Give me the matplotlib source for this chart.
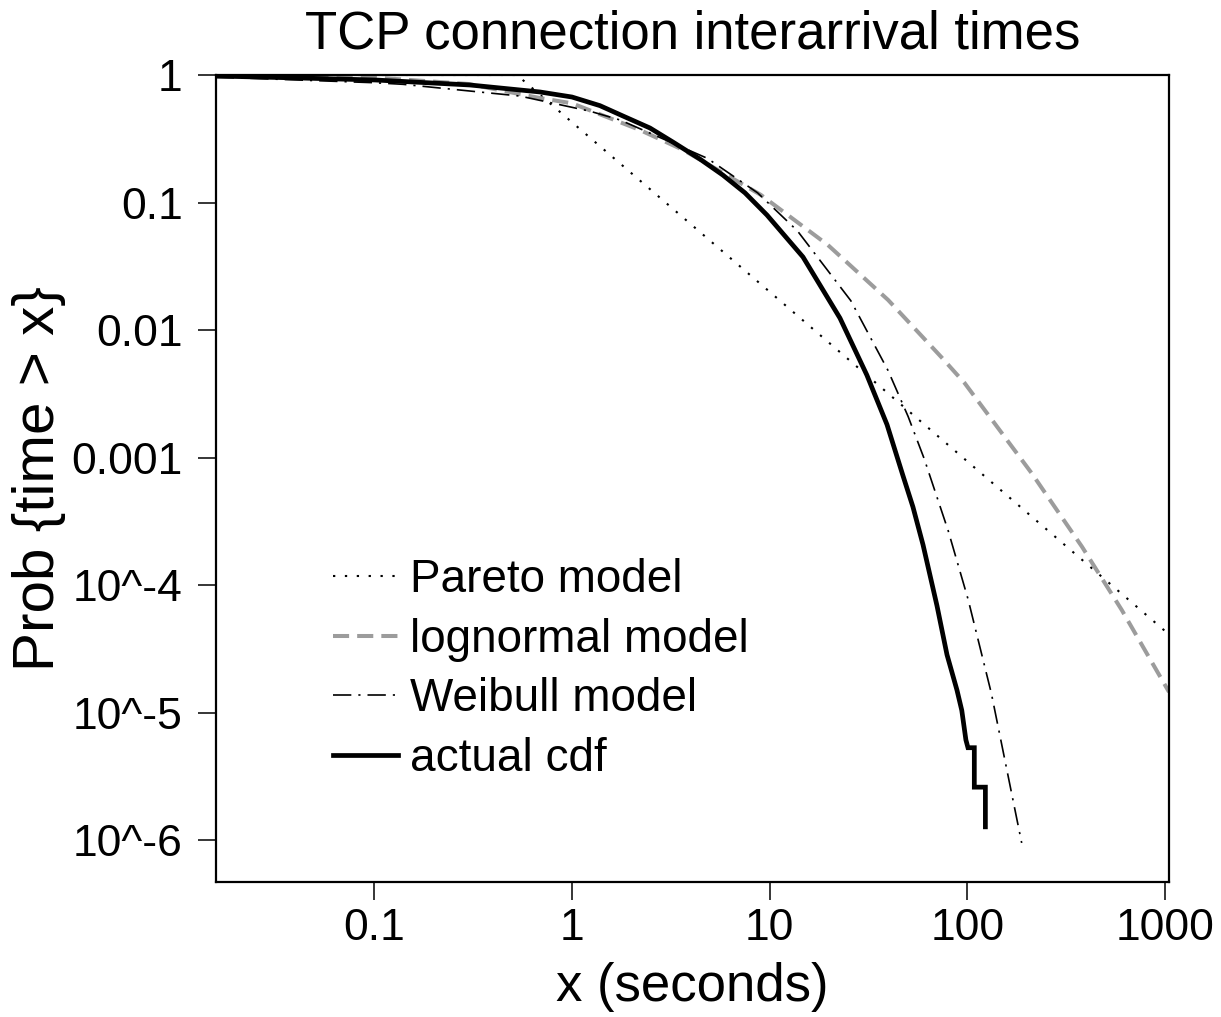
import matplotlib
matplotlib.use("Agg")
import matplotlib.pyplot as plt

# ---------------- data ----------------
title = "TCP connection interarrival times"
xlabel = "x (seconds)"
ylabel = "Prob {time > x}"
x_ticks = [0.1, 1, 10, 100, 1000]
x_ticklabels = ["0.1", "1", "10", "100", "1000"]
y_ticks = [1, 0.1, 0.01, 0.001, 1e-4, 1e-5, 1e-6]
y_ticklabels = ["1", "0.1", "0.01", "0.001", "10^-4", "10^-5", "10^-6"]

legend_labels = ["Pareto model", "lognormal model", "Weibull model", "actual cdf"]

pareto_x = [0.0158, 0.527, 1045]
pareto_p = [1.0, 1.0, 4.1e-5]

lognormal_x = [0.0158, 0.05, 0.1, 0.3, 0.688, 1.0, 2.21, 3.66, 9.0, 19.7,
               39.7, 73.7, 96.7, 211, 380, 603, 1045]
lognormal_p = [0.998, 0.985, 0.955, 0.85, 0.66, 0.60, 0.37, 0.258, 0.115, 0.0464,
               0.0172, 0.00614, 0.00384, 7.55e-4, 1.99e-4, 6.37e-5, 1.45e-5]

weibull_x = [0.0158, 0.0216, 0.1, 0.14, 0.545, 1.234, 1.75, 4.84, 8.69, 13.8,
             25.7, 39.7, 50.1, 60.4, 80.0, 100.8, 132, 188]
weibull_p = [0.957, 0.947, 0.87, 0.845, 0.684, 0.52, 0.444, 0.222, 0.119, 0.060,
             0.017, 0.0048, 0.0021, 9.8e-4, 2.65e-4, 7.7e-5, 1.42e-5, 9.5e-7]

actual_x = [0.0158, 0.0421, 0.101, 0.305, 0.689, 1.0, 1.385, 1.811, 2.48, 3.24,
            4.44, 5.80, 7.50, 9.69, 14.73, 22.66, 31.0, 39.2, 47.2, 53.0,
            59.6, 70.1, 78.8, 88.5, 93.6, 98.2, 100.6, 108.3, 108.3, 123.2, 123.2]
actual_p = [0.982, 0.947, 0.914, 0.835, 0.736, 0.672, 0.575, 0.477, 0.384, 0.298,
            0.219, 0.164, 0.119, 0.0797, 0.0374, 0.0124, 0.00443, 0.00181, 7.2e-4, 4.1e-4,
            2.07e-4, 6.9e-5, 2.84e-5, 1.5e-5, 1.04e-5, 6.1e-6, 5.3e-6, 5.3e-6, 2.6e-6, 2.6e-6,
            1.27e-6]

# ---------------- figure ----------------
FONT = ["Liberation Sans", "DejaVu Sans"]
plt.rcParams["font.family"] = FONT

W, H = 1221, 1017
fig = plt.figure(figsize=(W / 100, H / 100), dpi=100)
ax = fig.add_axes([216 / W, 1 - 882 / H, (1169 - 216) / W, (882 - 75) / H])

ax.plot(pareto_x, pareto_p, color="black", lw=1.5, linestyle=(0, (1.1, 4.6)),
        label=legend_labels[0])
ax.plot(lognormal_x, lognormal_p, color="#9c9c9c", lw=2.9, linestyle=(0, (4.0, 2.0)),
        label=legend_labels[1])
ax.plot(weibull_x, weibull_p, color="black", lw=1.2, linestyle=(0, (11, 4.2, 1.3, 4.2)),
        label=legend_labels[2])
ax.plot(actual_x, actual_p, color="black", lw=3.4, solid_joinstyle="miter",
        label=legend_labels[3])

ax.set_xscale("log")
ax.set_yscale("log")
ax.set_xlim(0.01585, 1045)
ax.set_ylim(4.69e-7, 1.0)

ax.set_xticks(x_ticks)
ax.set_xticklabels(x_ticklabels)
ax.set_yticks(y_ticks)
ax.set_yticklabels(y_ticklabels)
ax.minorticks_off()
ax.tick_params(axis="both", direction="out", length=13, width=1.1, labelsize=32)
ax.tick_params(axis="x", pad=6)
ax.tick_params(axis="y", pad=11)

for s in ax.spines.values():
    s.set_linewidth(1.6)

ax.set_title(title, fontsize=38, pad=19)
ax.set_xlabel(xlabel, fontsize=38)
ax.xaxis.set_label_coords(0.5, (882 - 962) / 807)
ax.set_ylabel(ylabel, fontsize=42)
ax.yaxis.set_label_coords((66 - 216) / 953, 0.5)

leg = ax.legend(loc="upper left", bbox_to_anchor=(333 / W, 1 - 558 / H),
                bbox_transform=fig.transFigure, frameon=False, fontsize=33,
                handlelength=1.42, handletextpad=0.26, labelspacing=0.34,
                borderpad=0, borderaxespad=0)

fig.savefig("out.png", dpi=100)
